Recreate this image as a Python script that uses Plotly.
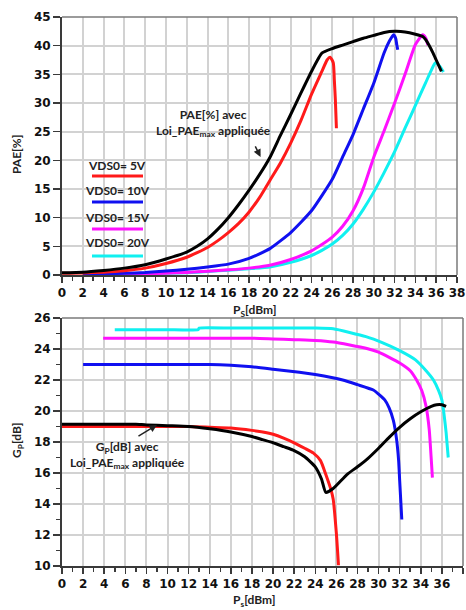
import plotly.graph_objects as go

# ---------------- data: top panel (PAE %) ----------------
pae_black_x = [0, 2, 4, 6, 8, 10, 12, 13, 14, 15, 16, 17, 18, 19, 20, 21, 22, 23, 24, 25, 26, 27, 28, 29, 30, 31, 32, 33, 34, 34.7, 35, 35.7, 36, 36.5]
pae_black_y = [0.4, 0.5, 0.8, 1.2, 1.8, 2.8, 4.0, 5.0, 6.3, 8.0, 10.0, 12.3, 14.8, 17.5, 20.5, 24.3, 28.0, 31.8, 35.5, 38.7, 39.5, 40.1, 40.7, 41.3, 41.8, 42.3, 42.5, 42.4, 42.0, 41.6, 41.0, 38.7, 37.5, 35.5]

pae_red_x = [0, 2, 4, 6, 8, 10, 12, 13, 14, 15, 16, 17, 18, 19, 20, 21, 22, 23, 24, 25, 25.5, 25.8, 26.1, 26.2, 26.3, 26.4]
pae_red_y = [0.3, 0.35, 0.5, 0.75, 1.2, 2.0, 3.1, 3.9, 4.8, 6.0, 7.4, 9.0, 11.0, 13.5, 16.5, 19.5, 23.0, 27.0, 31.5, 35.5, 37.5, 38.0, 37.0, 34.0, 30.5, 25.6]

pae_blue_x = [2, 4, 6, 8, 10, 12, 14, 16, 18, 20, 22, 24, 26, 27, 28, 29, 30, 31, 31.5, 31.9, 32.1, 32.2, 32.3]
pae_blue_y = [0.15, 0.2, 0.3, 0.45, 0.7, 1.0, 1.4, 1.9, 2.9, 4.6, 7.4, 11.2, 16.7, 20.6, 24.5, 29.0, 33.5, 38.8, 40.8, 41.9, 41.3, 40.2, 39.3]

pae_mag_x = [4, 6, 8, 10, 12, 14, 16, 18, 20, 22, 24, 25, 26, 27, 28, 29, 30, 31, 32, 33, 34, 34.7, 35, 35.2]
pae_mag_y = [0.1, 0.15, 0.2, 0.3, 0.45, 0.65, 0.9, 1.2, 1.7, 2.7, 4.2, 5.3, 6.6, 8.5, 11.2, 15.2, 20.6, 25.2, 30.0, 35.0, 40.2, 41.9, 41.3, 40.1]

pae_cyan_x = [5, 8, 10, 12, 14, 16, 18, 20, 22, 24, 25, 26, 27, 28, 29, 30, 31, 32, 33, 34, 35, 35.5, 35.9, 36.3, 36.7]
pae_cyan_y = [0.1, 0.2, 0.3, 0.4, 0.6, 0.85, 1.1, 1.4, 2.2, 3.4, 4.3, 5.4, 6.9, 8.9, 11.5, 14.5, 17.9, 21.5, 25.6, 29.6, 33.6, 35.6, 37.0, 36.5, 35.4]

# ---------------- data: bottom panel (Gp dB) ----------------
gp_black_x = [0, 2, 4, 6, 7, 8, 10, 12, 14, 16, 18, 19, 20, 21, 22, 23, 24, 24.6, 25, 25.7, 27, 28, 29, 30, 31, 32, 33, 34, 35, 35.5, 36, 36.4]
gp_black_y = [19.15, 19.15, 19.15, 19.15, 19.15, 19.1, 19.05, 19.0, 18.85, 18.65, 18.35, 18.15, 17.95, 17.7, 17.45, 17.05, 16.4, 15.6, 14.75, 15.0, 15.9, 16.4, 16.95, 17.6, 18.3, 18.95, 19.5, 19.95, 20.3, 20.4, 20.4, 20.3]

gp_red_x = [0, 2, 4, 6, 8, 10, 12, 14, 16, 18, 19.4, 20, 21, 22, 23, 23.8, 24.5, 25, 25.5, 25.7, 26, 26.2]
gp_red_y = [19.0, 19.0, 19.0, 19.0, 19.0, 19.0, 19.0, 18.95, 18.9, 18.75, 18.6, 18.5, 18.25, 17.95, 17.6, 17.3, 16.8, 15.9, 14.9, 14.3, 12.1, 10.05]

gp_blue_x = [2, 4, 6, 8, 10, 12, 14, 16, 18, 20, 22.5, 24, 26.6, 28, 29.5, 30.6, 31, 31.4, 31.7, 31.9, 32.0, 32.2]
gp_blue_y = [23.0, 23.0, 23.0, 23.0, 23.0, 23.0, 23.0, 22.95, 22.85, 22.7, 22.5, 22.35, 22.0, 21.7, 21.35, 20.7, 20.2, 19.4, 18.2, 16.8, 15.5, 13.0]

gp_mag_x = [3.9, 6, 8, 10, 12, 14, 16, 18, 20, 22, 24, 25.7, 28.8, 30, 32, 33, 33.6, 34.1, 34.5, 34.8, 35.0, 35.1]
gp_mag_y = [24.7, 24.7, 24.7, 24.7, 24.7, 24.7, 24.7, 24.7, 24.65, 24.6, 24.55, 24.45, 24.05, 23.8, 23.1, 22.6, 22.0, 21.3, 20.3, 18.8, 16.8, 15.7]

gp_cyan_x = [5, 8, 10, 12.9, 13, 16, 18, 20, 22, 24, 25.7, 28.8, 30.4, 32, 33.5, 34.5, 35.2, 35.7, 36, 36.2, 36.4, 36.6]
gp_cyan_y = [25.25, 25.25, 25.25, 25.25, 25.35, 25.35, 25.35, 25.35, 25.35, 25.35, 25.3, 24.8, 24.4, 23.9, 23.3, 22.6, 22.0, 21.3, 20.7, 19.8, 18.6, 17.0]

legend_labels = ["VDS0= 5V", "VDS0= 10V", "VDS0= 15V", "VDS0= 20V"]
x_tick_vals = list(range(0, 39, 2))
pae_tick_vals = list(range(0, 46, 5))
gp_tick_vals = list(range(10, 27, 2))

RED, BLUE, MAG, CYAN, BLACK = "#FF1A1A", "#1010F0", "#FF10FF", "#10F0F0", "#000000"
LW = 3

fig = go.Figure()

def add(x, y, color, xa, ya):
    fig.add_trace(go.Scatter(x=x, y=y, mode="lines",
                             line=dict(color=color, width=LW, shape="spline", smoothing=0.5),
                             xaxis=xa, yaxis=ya, showlegend=False, hoverinfo="skip"))

for (x, y, c) in [(pae_cyan_x, pae_cyan_y, CYAN), (pae_mag_x, pae_mag_y, MAG),
                  (pae_blue_x, pae_blue_y, BLUE), (pae_red_x, pae_red_y, RED),
                  (pae_black_x, pae_black_y, BLACK)]:
    add(x, y, c, "x", "y")

for (x, y, c) in [(gp_cyan_x, gp_cyan_y, CYAN), (gp_mag_x, gp_mag_y, MAG),
                  (gp_blue_x, gp_blue_y, BLUE), (gp_red_x, gp_red_y, RED),
                  (gp_black_x, gp_black_y, BLACK)]:
    add(x, y, c, "x2", "y2")

tickfont = dict(family="DejaVu Sans", size=12, color="#111", weight="bold")
GRID = "#D2D2D2"
AXC = "#3A3A3A"

def xaxis_cfg(domain, anchor):
    return dict(domain=domain, anchor=anchor, range=[0, 38], tickvals=x_tick_vals,
                ticks="outside", ticklen=6, tickwidth=1.5, tickcolor=AXC,
                showline=True, linecolor=AXC, linewidth=2, mirror=False,
                showgrid=True, gridcolor=GRID, gridwidth=2, zeroline=False,
                tickfont=tickfont, automargin=False,
                minor=dict(dtick=1, tick0=0, ticks="outside", ticklen=4, tickwidth=1.5,
                           tickcolor=AXC, showgrid=False))

def yaxis_cfg(domain, anchor, rng, vals, minor):
    d = dict(domain=domain, anchor=anchor, range=rng, tickvals=vals,
             ticks="outside", ticklen=7, tickwidth=1.5, tickcolor=AXC,
             showline=True, linecolor=AXC, linewidth=2, mirror=False,
             showgrid=True, gridcolor=GRID, gridwidth=2, zeroline=False,
             tickfont=tickfont, automargin=False)
    if minor:
        d["minor"] = dict(dtick=1, tick0=10, ticks="outside", ticklen=4, tickwidth=1.5,
                          tickcolor=AXC, showgrid=False)
    return d

W, H = 466, 610
L, R, T, B = 62, 3, 17, 44
PW, PH = W - L - R, H - T - B

def px2paper(px, py):
    return (px - L) / PW, (H - B - py) / PH

top_bottom = px2paper(0, 275)[1]
bot_top = px2paper(0, 318)[1]

fig.update_layout(
    width=W, height=H, margin=dict(l=L, r=R, t=T, b=B, autoexpand=False),
    paper_bgcolor="white", plot_bgcolor="white",
    xaxis=xaxis_cfg([0, (457 - L) / PW], "y"),
    yaxis=yaxis_cfg([top_bottom, 1], "x", [0, 45], pae_tick_vals, False),
    xaxis2=xaxis_cfg([0, 1], "y2"),
    yaxis2=yaxis_cfg([0, bot_top], "x2", [10, 26], gp_tick_vals, True),
)

# top/right frame lines
shapes = []
for xa, ya in [("x", "y"), ("x2", "y2")]:
    shapes.append(dict(type="line", xref=f"{xa} domain", yref=f"{ya} domain", x0=0, x1=1, y0=1, y1=1,
                       line=dict(color="#7A7A7A", width=1.5)))
    shapes.append(dict(type="line", xref=f"{xa} domain", yref=f"{ya} domain", x0=1, x1=1, y0=0, y1=1,
                       line=dict(color="#7A7A7A", width=1.5)))

annfont = dict(family="Lato", size=12, color="#222", weight="bold")
anns = []

# custom legend: text above colour swatch
leg_colors = [RED, BLUE, MAG, CYAN]
leg_text_py = [165, 190, 217, 242]
leg_line_py = [176, 202, 229, 256]
for lab, c, tpy, lpy in zip(legend_labels, leg_colors, leg_text_py, leg_line_py):
    tx, ty = px2paper(117, tpy)
    anns.append(dict(text=lab, x=tx, y=ty, xref="paper", yref="paper", showarrow=False,
                     font=annfont, xanchor="center", yanchor="middle"))
    x0, y0 = px2paper(92, lpy)
    x1, _ = px2paper(143, lpy)
    shapes.append(dict(type="line", xref="paper", yref="paper", x0=x0, x1=x1, y0=y0, y1=y0,
                       line=dict(color=c, width=3)))

# axis titles
axfont = dict(family="Lato", size=12, color="#222", weight="bold")
for txt, px, py, ang in [("P<sub>S</sub>[dBm]", 254, 310, 0), ("P<sub>s</sub>[dBm]", 254, 600, 0),
                         ("PAE[%]", 17, 155, -90), ("G<sub>P</sub>[dB]", 17, 440, -90)]:
    ax_, ay_ = px2paper(px, py)
    anns.append(dict(text=txt, x=ax_, y=ay_, xref="paper", yref="paper", showarrow=False,
                     font=axfont, textangle=ang, xanchor="center", yanchor="middle"))

# curve annotations
t1x, t1y = px2paper(213, 123)
anns.append(dict(text="PAE[%] avec<br>Loi_PAE<sub>max</sub> appliquée", x=t1x, y=t1y,
                 xref="paper", yref="paper", showarrow=False, font=annfont, align="center",
                 xanchor="center", yanchor="middle"))
anns.append(dict(text="", x=19.1, y=20.6, xref="x", yref="y", showarrow=True, ax=-6, ay=-12,
                 arrowhead=2, arrowsize=1, arrowwidth=1.5, arrowcolor="#222"))

t2x, t2y = px2paper(127, 455)
anns.append(dict(text="G<sub>P</sub>[dB] avec<br>Loi_PAE<sub>max</sub> appliquée", x=t2x, y=t2y,
                 xref="paper", yref="paper", showarrow=False, font=annfont, align="center",
                 xanchor="center", yanchor="middle"))
anns.append(dict(text="", x=9.0, y=19.1, xref="x2", yref="y2", showarrow=True, ax=-20, ay=12,
                 arrowhead=2, arrowsize=1, arrowwidth=1.5, arrowcolor="#222"))

fig.update_layout(shapes=shapes, annotations=anns)
fig.write_html("out.html", config={"displayModeBar": False, "staticPlot": True},
               post_script="document.body.style.margin='0';document.body.style.overflow='hidden';")
